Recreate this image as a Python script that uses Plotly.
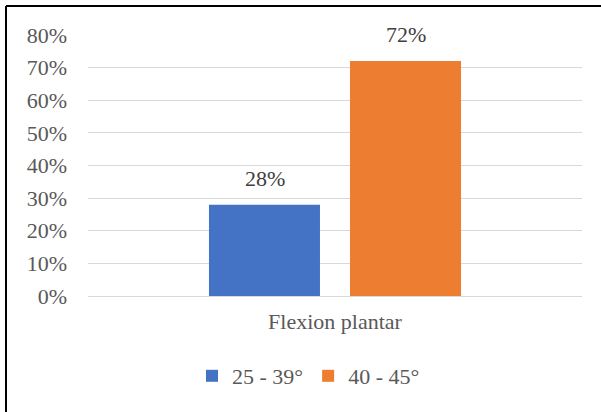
import plotly.graph_objects as go

# Chart data
categories = ["Flexion plantar"]
series_names = ["25 - 39°", "40 - 45°"]
series_values = [[28], [72]]
series_colors = ["#4472C4", "#ED7D31"]
y_tick_values = [0, 10, 20, 30, 40, 50, 60, 70, 80]
y_tick_labels = ["0%", "10%", "20%", "30%", "40%", "50%", "60%", "70%", "80%"]

W, H = 601, 412
ML, MR, MT, MB = 88, 19, 35, 116
PW, PH = W - ML - MR, H - MT - MB

FONT = "Liberation Serif, Times New Roman, serif"
GREY = "#595959"

fig = go.Figure()
for name, vals, color in zip(series_names, series_values, series_colors):
    fig.add_trace(go.Bar(
        x=categories, y=vals, name=name,
        marker=dict(color=color, line=dict(width=0)),
        hoverinfo="skip",
    ))

# value labels above each bar
n = len(series_names)
for i, vals in enumerate(series_values):
    for cat, v in zip(categories, vals):
        fig.add_annotation(
            x=cat, y=v, xref="x", yref="y", text=f"{v}%",
            showarrow=False, yanchor="bottom", yshift=12,
            xshift=(i - (n - 1) / 2) * 141,
            font=dict(family=FONT, size=22, color="#404040"),
        )

# frame lines along the left and top edges
x_left = (6 - ML) / PW
y_top = 1 + (MT - 6) / PH
fig.add_shape(type="line", xref="paper", yref="paper",
              x0=x_left, x1=x_left, y0=y_top, y1=-(MB + 10) / PH,
              line=dict(color="#000000", width=2))
fig.add_shape(type="line", xref="paper", yref="paper",
              x0=x_left, x1=1 + (MR + 10) / PW, y0=y_top, y1=y_top,
              line=dict(color="#000000", width=2))

fig.update_layout(
    width=W, height=H,
    margin=dict(l=ML, r=MR, t=MT, b=MB),
    paper_bgcolor="white", plot_bgcolor="white",
    barmode="group", bargap=0.429, bargroupgap=0.213,
    font=dict(family=FONT, size=22, color=GREY),
    showlegend=True,
    legend=dict(
        orientation="h", x=0.5 - 26.5 / PW, xanchor="center",
        y=-(376 - MT - PH) / PH, yanchor="middle",
        font=dict(family=FONT, size=22, color=GREY),
        itemwidth=30, traceorder="normal",
    ),
    xaxis=dict(showgrid=False, showline=False, ticks="",
               tickfont=dict(family=FONT, size=22, color=GREY),
               ticklabelstandoff=10),
    yaxis=dict(range=[0, 80], tickvals=y_tick_values, ticktext=y_tick_labels,
               showgrid=True, gridcolor="#D9D9D9", gridwidth=1,
               zeroline=True, zerolinecolor="#D9D9D9", zerolinewidth=1,
               showline=False, ticks="",
               tickfont=dict(family=FONT, size=22, color=GREY),
               ticklabelstandoff=20),
)

fig.write_html("out.html")
